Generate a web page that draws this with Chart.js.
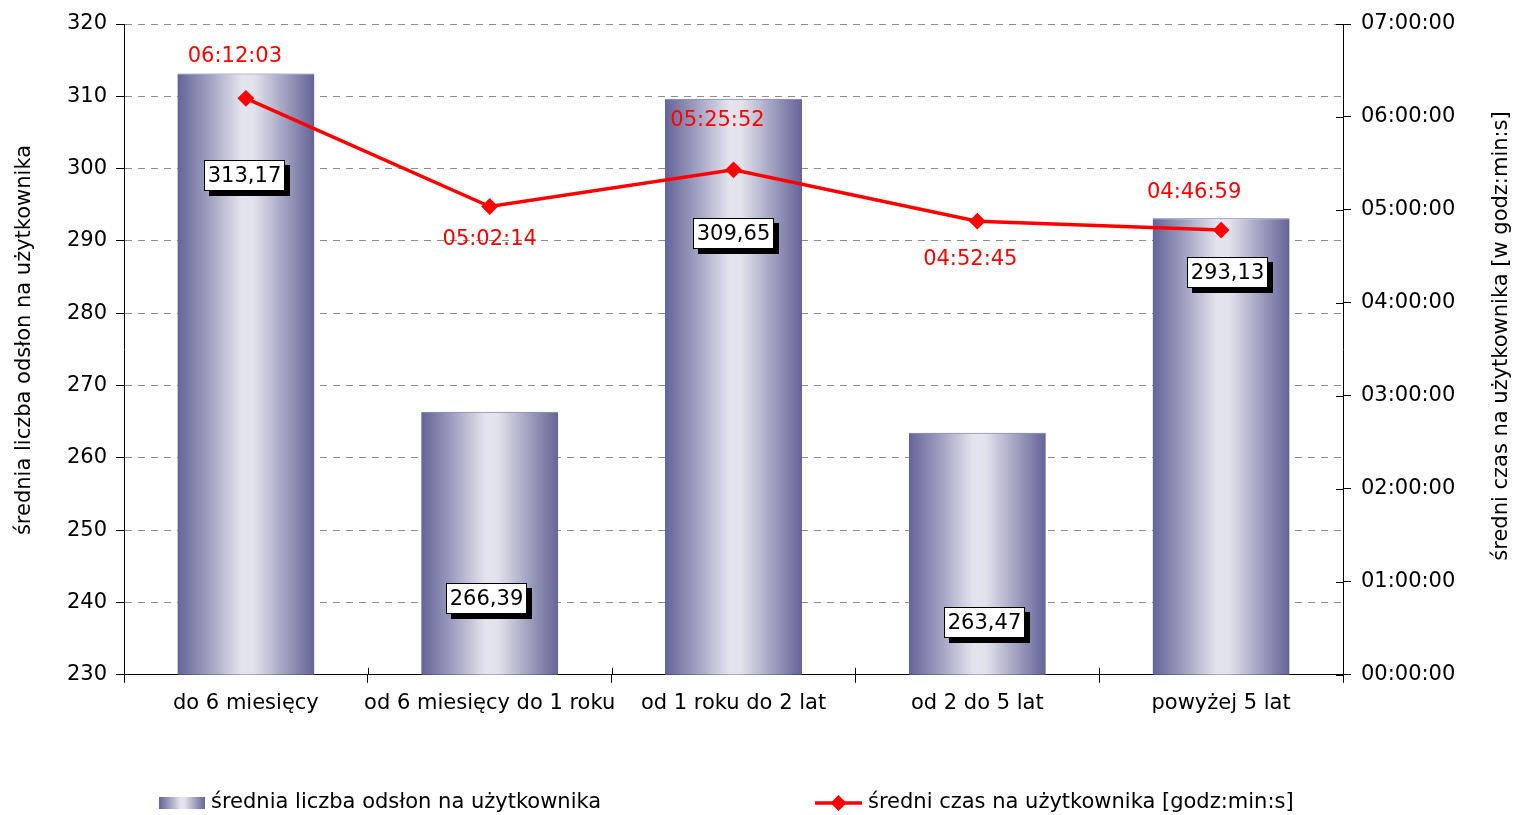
<!DOCTYPE html>
<html><head><meta charset="utf-8">
<script src="https://cdn.jsdelivr.net/npm/chart.js@4"></script>
<style>html,body{margin:0;padding:0;background:#fff}canvas{display:block}</style>
</head><body>
<canvas id="c" width="1513" height="815" style="width:1513px;height:815px"></canvas>
<script>
// ---- data ----
const categories = ['do 6 miesięcy', 'od 6 miesięcy do 1 roku', 'od 1 roku do 2 lat', 'od 2 do 5 lat', 'powyżej 5 lat'];
const pageViews = [313.17, 266.39, 309.65, 263.47, 293.13];
const pageViewLabels = ['313,17', '266,39', '309,65', '263,47', '293,13'];
const avgTimeText = ['06:12:03', '05:02:14', '05:25:52', '04:52:45', '04:46:59'];
const leftAxis = { min: 230, max: 320, step: 10 };
const rightAxis = { min: 0, max: 7 * 3600, step: 3600 };
const seriesNames = ['średnia liczba odsłon na użytkownika', 'średni czas na użytkownika [godz:min:s]'];
const axisTitles = ['średnia liczba odsłon na użytkownika', 'średni czas na użytkownika [w godz:min:s]'];

// ---- label placement (positions, not data) ----
const barLabelAt = [299.1, 240.6, 291.0, 237.3, 285.7];   // left-axis value of box centre
const barLabelDx = [-1, -3, 0, 7, 6];
const timeLabelOffset = [[-11, -42], [0, 33], [-16, -49], [-7, 38], [-27, -38]];

const avgTimeSec = avgTimeText.map(t => { const p = t.split(':').map(Number); return p[0] * 3600 + p[1] * 60 + p[2]; });
function fmtTime(s) { const h = Math.floor(s / 3600), m = Math.floor((s % 3600) / 60), ss = s % 60; return [h, m, ss].map(v => String(v).padStart(2, '0')).join(':'); }

const FONT = 'DejaVu Sans';
const FS = 21;
const BAR_PCT = 0.562;
Chart.defaults.font.family = FONT;
Chart.defaults.font.size = FS;
Chart.defaults.color = '#000';

function barGradient(ctx, x0, x1) {
  const g = ctx.createLinearGradient(x0, 0, x1, 0);
  g.addColorStop(0, '#646498');
  g.addColorStop(0.22, '#9d9dbf');
  g.addColorStop(0.47, '#e4e4ee');
  g.addColorStop(0.56, '#e2e2ec');
  g.addColorStop(0.8, '#9c9cbe');
  g.addColorStop(1, '#646498');
  return g;
}

const innerTicks = {
  id: 'innerTicks',
  afterDraw(chart) {
    const c = chart.ctx, a = chart.chartArea;
    c.save(); c.strokeStyle = '#000'; c.lineWidth = 1;
    const y1 = chart.scales.y1;
    y1.ticks.forEach((t, i) => { const y = Math.round(y1.getPixelForTick(i)) + 0.5; c.beginPath(); c.moveTo(a.right - 7, y); c.lineTo(a.right, y); c.stroke(); });
    const step = a.width / categories.length;
    for (let i = 0; i <= categories.length; i++) { const x = Math.round(a.left + i * step) + 0.5; c.beginPath(); c.moveTo(x, a.bottom - 7); c.lineTo(x, a.bottom); c.stroke(); }
    c.restore();
  }
};

const titlesPlugin = {
  id: 'axisTitles',
  afterDraw(chart) {
    const c = chart.ctx; c.save();
    c.font = FS + 'px "' + FONT + '"'; c.fillStyle = '#000'; c.textAlign = 'center'; c.textBaseline = 'middle';
    c.save(); c.translate(25, 340); c.rotate(-Math.PI / 2); c.fillText(axisTitles[0], 0, 0); c.restore();
    c.save(); c.translate(1502, 336); c.rotate(-Math.PI / 2); c.fillText(axisTitles[1], 0, 0); c.restore();
    c.restore();
  }
};

const labelsPlugin = {
  id: 'labelsPlugin',
  afterDatasetsDraw(chart) {
    const c = chart.ctx; c.save();
    c.font = FS + 'px "' + FONT + '"'; c.textBaseline = 'middle'; c.textAlign = 'center';
    const xs = chart.scales.x, ys = chart.scales.y;
    pageViewLabels.forEach((txt, i) => {
      const cx = xs.getPixelForValue(i) + barLabelDx[i];
      const cy = ys.getPixelForValue(barLabelAt[i]);
      const w = Math.round(c.measureText(txt).width + 8), h = 31;
      const x0 = Math.round(cx - w / 2), y0 = Math.round(cy - h / 2);
      c.fillStyle = '#000'; c.fillRect(x0 + 5, y0 + 5, w, h);
      c.fillStyle = '#fff'; c.fillRect(x0, y0, w, h);
      c.strokeStyle = '#000'; c.lineWidth = 1; c.strokeRect(x0 + 0.5, y0 + 0.5, w - 1, h - 1);
      c.fillStyle = '#000'; c.fillText(txt, x0 + w / 2, y0 + h / 2 + 1);
    });
    const meta = chart.getDatasetMeta(1);
    c.fillStyle = '#ff0000';
    meta.data.forEach((pt, i) => {
      c.fillText(avgTimeText[i], pt.x + timeLabelOffset[i][0], pt.y + timeLabelOffset[i][1]);
    });
    c.restore();
  }
};

const legendPlugin = {
  id: 'customLegend',
  afterDraw(chart) {
    const c = chart.ctx; c.save();
    c.font = FS + 'px "' + FONT + '"'; c.textBaseline = 'middle'; c.textAlign = 'left'; c.fillStyle = '#000';
    const ly = 803;
    c.fillStyle = barGradient(c, 159, 205); c.fillRect(159, 797, 46, 12);
    c.fillStyle = '#000'; c.fillText(seriesNames[0], 211, ly);
    c.strokeStyle = '#ff0000'; c.lineWidth = 3.5; c.beginPath(); c.moveTo(815, ly); c.lineTo(862, ly); c.stroke();
    c.fillStyle = '#ff0000'; c.beginPath(); c.moveTo(838.5, ly - 8); c.lineTo(846.5, ly); c.lineTo(838.5, ly + 8); c.lineTo(830.5, ly); c.closePath(); c.fill();
    c.fillStyle = '#000'; c.fillText(seriesNames[1], 868, ly);
    c.restore();
  }
};

new Chart(document.getElementById('c'), {
  data: {
    labels: categories,
    datasets: [
      {
        type: 'bar', label: seriesNames[0], data: pageViews, yAxisID: 'y', order: 2,
        barPercentage: BAR_PCT, categoryPercentage: 1,
        borderColor: '#6e6ea0', borderWidth: { top: 1, left: 0, right: 0, bottom: 0 }, borderSkipped: false,
        backgroundColor: (ctx) => {
          const ch = ctx.chart;
          if (!ch.chartArea || !ch.scales.x || ctx.dataIndex === undefined) return '#8888aa';
          const cx = ch.scales.x.getPixelForValue(ctx.dataIndex);
          const w = ch.chartArea.width / categories.length * BAR_PCT;
          return barGradient(ch.ctx, cx - w / 2, cx + w / 2);
        }
      },
      {
        type: 'line', label: seriesNames[1], data: avgTimeSec, yAxisID: 'y1', order: 1,
        borderColor: '#ff0000', borderWidth: 3.5, backgroundColor: '#ff0000',
        pointStyle: 'rectRot', pointRadius: 7, pointBorderWidth: 2, pointBorderColor: '#ff0000', pointBackgroundColor: '#ff0000',
        tension: 0, fill: false
      }
    ]
  },
  options: {
    responsive: false, animation: false, devicePixelRatio: 1,
    layout: { padding: { top: 24, left: 0, right: 0, bottom: 91 } },
    plugins: { legend: { display: false }, tooltip: { enabled: false } },
    scales: {
      x: {
        type: 'category', offset: true,
        grid: { offset: true, drawOnChartArea: false, drawTicks: true, tickLength: 8, color: '#000', tickColor: '#000' },
        border: { color: '#000', width: 1 },
        ticks: { padding: 8, color: '#000', maxRotation: 0, autoSkip: false, font: { size: FS } }
      },
      y: {
        position: 'left', min: leftAxis.min, max: leftAxis.max,
        afterFit(s) { s.width = 124; },
        grid: { color: (ctx) => ctx.index === 0 ? 'rgba(0,0,0,0)' : '#8c8c8c', tickColor: '#000', tickLength: 8, drawTicks: true, tickBorderDash: [] },
        border: { color: '#000', width: 1, dash: [7, 6] },
        ticks: { stepSize: leftAxis.step, padding: 9, color: '#000', font: { size: FS } },
        title: { display: false }
      },
      y1: {
        position: 'right', min: rightAxis.min, max: rightAxis.max,
        afterFit(s) { s.width = 170; },
        grid: { drawOnChartArea: false, tickColor: '#000', tickLength: 8, drawTicks: true },
        border: { color: '#000', width: 1 },
        ticks: { stepSize: rightAxis.step, padding: 10, color: '#000', font: { size: FS }, callback: (v) => fmtTime(v) },
        title: { display: false }
      }
    }
  },
  plugins: [innerTicks, labelsPlugin, legendPlugin, titlesPlugin]
});
</script>
</body></html>
